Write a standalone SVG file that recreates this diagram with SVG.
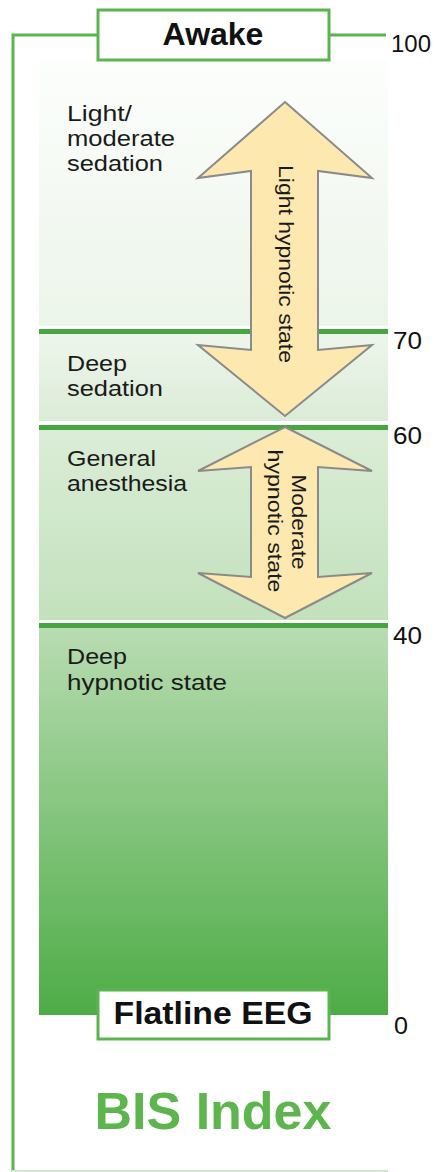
<svg xmlns="http://www.w3.org/2000/svg" width="442" height="1172" viewBox="0 0 442 1172">
<defs>
<linearGradient id="g1" x1="0" y1="0" x2="0" y2="1"><stop offset="0" stop-color="#fcfefc"/><stop offset="1" stop-color="#ecf5ea"/></linearGradient>
<linearGradient id="g2" x1="0" y1="0" x2="0" y2="1"><stop offset="0" stop-color="#eef6ec"/><stop offset="1" stop-color="#dbebd7"/></linearGradient>
<linearGradient id="g3" x1="0" y1="0" x2="0" y2="1"><stop offset="0" stop-color="#dbedd7"/><stop offset="1" stop-color="#c2e1bc"/></linearGradient>
<linearGradient id="g4" x1="0" y1="0" x2="0" y2="1"><stop offset="0" stop-color="#b8dcb1"/><stop offset="1" stop-color="#4dac46"/></linearGradient>
<style>
.frame{stroke:#5cb450;stroke-width:3;fill:none}
.box{fill:#fff;stroke:#5cb450;stroke-width:3}
.sep{fill:#45a541}
.lbl{font-family:"Liberation Sans",Arial,sans-serif;font-size:22px;fill:#1a1a1a}
.num{font-family:"Liberation Sans",Arial,sans-serif;font-size:24px;fill:#111}
.hdr{font-family:"Liberation Sans",Arial,sans-serif;font-size:32px;font-weight:bold;fill:#111;text-anchor:middle}
.arrow{fill:#fde9b0;stroke:#8a8a8a;stroke-width:2;stroke-linejoin:miter}
.atxt{font-family:"Liberation Sans",Arial,sans-serif;font-size:21px;fill:#1a1a1a;text-anchor:middle}
</style>
</defs>
<g id="bands">
<rect x="39" y="60" width="349" height="266" fill="url(#g1)"/>
<rect x="39" y="334" width="349" height="87" fill="url(#g2)"/>
<rect x="39" y="430" width="349" height="190" fill="url(#g3)"/>
<rect x="39" y="628" width="349" height="387" fill="url(#g4)"/>
<rect class="sep" x="39" y="329" width="349" height="5"/>
<rect class="sep" x="39" y="425" width="349" height="5"/>
<rect class="sep" x="39" y="623" width="349" height="5"/>
</g>
<g id="connectors">
<polyline class="frame" points="98,35 13,35 13,1172"/>
<line class="frame" x1="329" y1="35" x2="386" y2="35"/>
<line x1="12" y1="1171" x2="388" y2="1171" stroke="#cfe7ca" stroke-width="2"/>
</g>
<g id="awake">
<rect class="box" x="98" y="10" width="231" height="50"/>
<text class="hdr" x="213" y="45" font-size="31">Awake</text>
</g>
<g id="flatline">
<rect class="box" x="98" y="990" width="231" height="49"/>
<text class="hdr" x="213" y="1024" textLength="199" lengthAdjust="spacingAndGlyphs">Flatline EEG</text>
</g>
<g id="scale">
<text class="num" x="391" y="52" textLength="40" lengthAdjust="spacingAndGlyphs">100</text>
<text class="num" x="393" y="349" textLength="29" lengthAdjust="spacingAndGlyphs">70</text>
<text class="num" x="393" y="444" textLength="29" lengthAdjust="spacingAndGlyphs">60</text>
<text class="num" x="393" y="644" textLength="29" lengthAdjust="spacingAndGlyphs">40</text>
<text class="num" x="394" y="1034" textLength="14" lengthAdjust="spacingAndGlyphs">0</text>
</g>
<g id="zone-light">
<text class="lbl" x="67" y="121" textLength="65" lengthAdjust="spacingAndGlyphs">Light/</text>
<text class="lbl" x="67" y="146" textLength="108" lengthAdjust="spacingAndGlyphs">moderate</text>
<text class="lbl" x="67" y="171" textLength="96" lengthAdjust="spacingAndGlyphs">sedation</text>
</g>
<g id="zone-deep-sedation">
<text class="lbl" x="67" y="371" textLength="60" lengthAdjust="spacingAndGlyphs">Deep</text>
<text class="lbl" x="67" y="396" textLength="96" lengthAdjust="spacingAndGlyphs">sedation</text>
</g>
<g id="zone-general">
<text class="lbl" x="67" y="466" textLength="89" lengthAdjust="spacingAndGlyphs">General</text>
<text class="lbl" x="67" y="491" textLength="120" lengthAdjust="spacingAndGlyphs">anesthesia</text>
</g>
<g id="zone-deep-hypnotic">
<text class="lbl" x="67" y="664" textLength="60" lengthAdjust="spacingAndGlyphs">Deep</text>
<text class="lbl" x="67" y="690" textLength="160" lengthAdjust="spacingAndGlyphs">hypnotic state</text>
</g>
<g id="arrow-light">
<polygon class="arrow" points="285,102 372,178 318,171 318,350 372,345 285,416 198,345 251,350 251,171 198,178"/>
<text class="atxt" transform="translate(279,264) rotate(90)" textLength="198" lengthAdjust="spacingAndGlyphs">Light hypnotic state</text>
</g>
<g id="arrow-moderate">
<polygon class="arrow" points="285,427 372,471 318,467 318,577 372,573 285,618 198,573 251,577 251,467 198,471"/>
<text class="atxt" transform="translate(292,522) rotate(90)" textLength="95" lengthAdjust="spacingAndGlyphs">Moderate</text>
<text class="atxt" transform="translate(268,521) rotate(90)" textLength="143" lengthAdjust="spacingAndGlyphs">hypnotic state</text>
</g>
<g id="title">
<text x="213" y="1129" font-family="Liberation Sans,Arial,sans-serif" font-size="52" font-weight="bold" fill="#5cb54d" text-anchor="middle">BIS Index</text>
</g>
</svg>
